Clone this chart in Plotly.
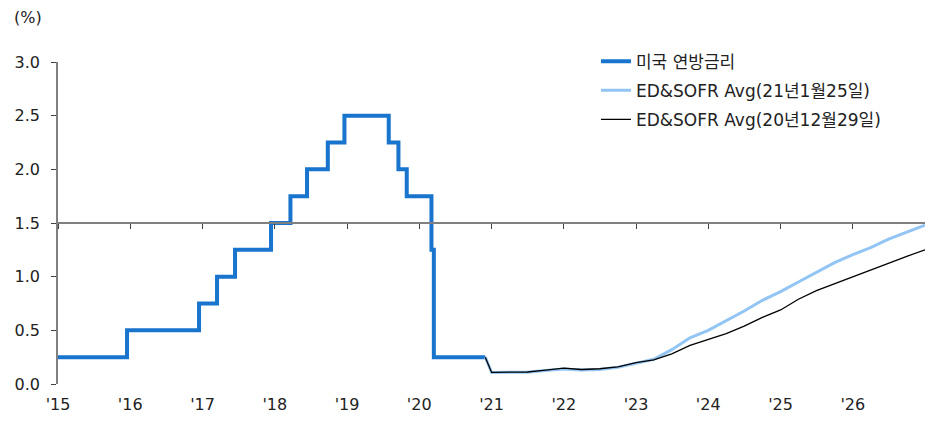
import plotly.graph_objects as go

# US federal funds target rate (upper bound), dated at each change
fed_dates = ["2015-01-01", "2015-12-16", "2016-12-14", "2017-03-15", "2017-06-14",
             "2017-12-13", "2018-03-21", "2018-06-13", "2018-09-26", "2018-12-19",
             "2019-07-31", "2019-09-18", "2019-10-30", "2020-03-03", "2020-03-15",
             "2020-11-30"]
fed_rate = [0.25, 0.50, 0.75, 1.00, 1.25, 1.50, 1.75, 2.00, 2.25, 2.50,
            2.25, 2.00, 1.75, 1.25, 0.25, 0.25]

# Implied path from ED & SOFR futures averages (quarterly)
path_dates = ["2020-11-30"] + [f"{y}-{m:02d}-01" for y in range(2021, 2027) for m in (1, 4, 7, 10)] + ["2027-01-01"]
path_0125 = [0.25, 0.108, 0.110, 0.110, 0.125, 0.140, 0.130, 0.135, 0.155, 0.195, 0.230,
             0.320, 0.430, 0.500, 0.590, 0.680, 0.780, 0.860, 0.950, 1.040, 1.130,
             1.205, 1.270, 1.350, 1.415, 1.480]
path_1229 = [0.25, 0.108, 0.110, 0.112, 0.130, 0.147, 0.135, 0.142, 0.160, 0.200, 0.225,
             0.280, 0.360, 0.415, 0.470, 0.540, 0.620, 0.690, 0.790, 0.870, 0.935,
             1.000, 1.060, 1.125, 1.190, 1.250]

years = list(range(2015, 2027))
year_ticks = [f"{y}-01-01" for y in years]
year_labels = [f"'{y % 100:02d}" for y in years]

names = ["미국 연방금리", "ED&SOFR Avg(21년1월25일)", "ED&SOFR Avg(20년12월29일)"]

FONT = "DejaVu Sans, Noto Sans CJK KR, sans-serif"
TXT = "#222222"
AXIS = "#808080"

fig = go.Figure()
fig.add_trace(go.Scatter(x=fed_dates, y=fed_rate, mode="lines", name=names[0],
                         legendgroup="g1",
                         line=dict(color="#1874CD", width=4, shape="hv")))
fig.add_trace(go.Scatter(x=path_dates, y=path_0125, mode="lines", name=names[1],
                         legendgroup="g2",
                         line=dict(color="#92C5F3", width=3)))
fig.add_trace(go.Scatter(x=path_dates, y=path_1229, mode="lines", name=names[2],
                         legendgroup="g3",
                         line=dict(color="#000000", width=1.3)))

# invisible trace on the secondary x-axis so it is rendered
fig.add_trace(go.Scatter(x=["2015-01-01"], y=[None], xaxis="x2", showlegend=False,
                         hoverinfo="skip"))

fig.update_layout(
    width=938, height=432,
    margin=dict(l=58, r=13, t=62, b=48),
    paper_bgcolor="white", plot_bgcolor="white",
    font=dict(family=FONT, size=16, color=TXT),
    showlegend=True,
    legend=dict(x=0.6205, y=1.057, xanchor="left", yanchor="top",
                bgcolor="rgba(0,0,0,0)", font=dict(size=17, color=TXT),
                tracegroupgap=4),
    xaxis=dict(type="date", range=["2015-01-01", "2027-01-01"],
               tickvals=year_ticks, ticktext=year_labels,
               showgrid=False, zeroline=False, showline=False, ticks="",
               ticklabelstandoff=9,
               tickfont=dict(size=16, color=TXT)),
    xaxis2=dict(type="date", range=["2015-01-01", "2027-01-01"], overlaying="x",
                anchor="free", position=0.5, side="bottom",
                tickvals=year_ticks, showticklabels=False,
                showgrid=False, zeroline=False, showline=True,
                linecolor=AXIS, linewidth=1.5,
                ticks="outside", ticklen=5, tickwidth=1.2, tickcolor="#404040"),
    yaxis=dict(range=[0, 3], tickvals=[0, 0.5, 1.0, 1.5, 2.0, 2.5, 3.0],
               ticktext=["0.0", "0.5", "1.0", "1.5", "2.0", "2.5", "3.0"],
               showgrid=False, zeroline=False, showline=True,
               linecolor=AXIS, linewidth=1.5,
               ticks="outside", ticklen=5, tickwidth=1.2, tickcolor="#404040",
               ticklabelstandoff=8,
               tickfont=dict(size=16, color=TXT)),
    annotations=[dict(text="(%)", xref="paper", yref="paper", x=-0.053, y=1.137,
                      xanchor="left", yanchor="middle", showarrow=False,
                      font=dict(size=16, color=TXT))],
)

fig.write_html("out.html")
